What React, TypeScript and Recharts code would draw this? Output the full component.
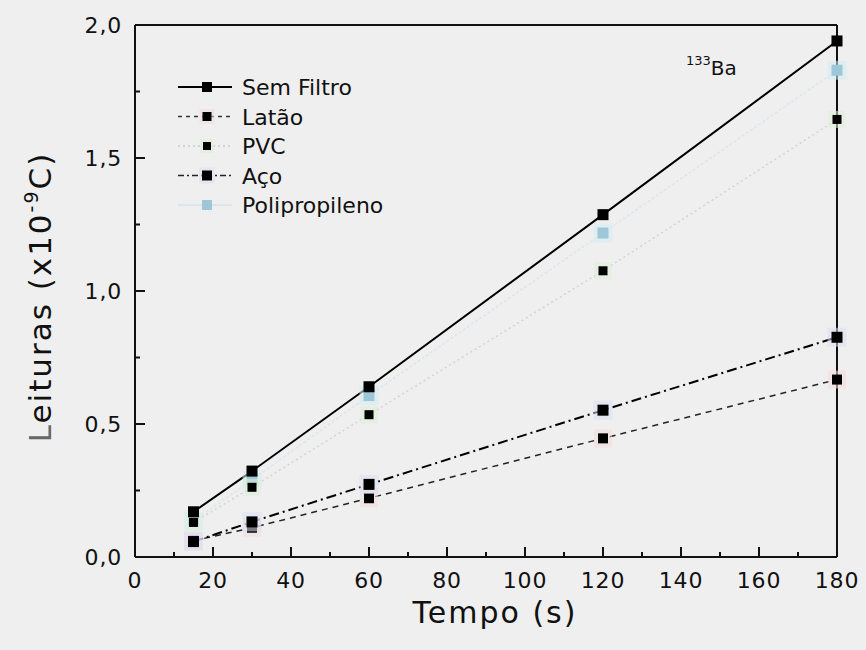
import React from 'react';
import { LineChart, Line, XAxis, YAxis } from 'recharts';

// Irradiation times (s)
const times = [15, 30, 60, 120, 180];

// Charge readings (x10^-9 C) for each filter
const semFiltro = [0.17, 0.323, 0.64, 1.287, 1.94];
const latao = [0.061, 0.11, 0.221, 0.446, 0.667];
const pvc = [0.13, 0.262, 0.535, 1.076, 1.645];
const aco = [0.058, 0.132, 0.273, 0.552, 0.826];
const polipropileno = [0.135, 0.29, 0.607, 1.218, 1.83];

const xTicks = [0, 10, 20, 30, 40, 50, 60, 70, 80, 90, 100, 110, 120, 130, 140, 150, 160, 170, 180];
const yTicks = [0, 0.25, 0.5, 0.75, 1, 1.25, 1.5, 1.75, 2];

const data = times.map((t, i) => ({
  t,
  semFiltro: semFiltro[i],
  latao: latao[i],
  pvc: pvc[i],
  aco: aco[i],
  polipropileno: polipropileno[i],
}));

const FONT = '"DejaVu Sans", Verdana, sans-serif';
const INK = '#111';

const isMajorY = (v: number) => Math.abs(v * 2 - Math.round(v * 2)) < 1e-6;
const fmtY = (v: number) => v.toFixed(1).replace('.', ',');

const BottomTick = (props: any) => {
  const { x, y, payload } = props;
  const major = payload.value % 20 === 0;
  return (
    <g>
      <line x1={x} x2={x} y1={y} y2={y - (major ? 10 : 5)} stroke={INK} strokeWidth={2} />
      {major && (
        <text x={x} y={y + 31} textAnchor="middle" fontSize={22} fontFamily={FONT} fill={INK} letterSpacing={0.8}>
          {payload.value}
        </text>
      )}
    </g>
  );
};

const TopTick = (props: any) => {
  const { x, y, payload } = props;
  const major = payload.value % 20 === 0;
  return <line x1={x} x2={x} y1={y} y2={y + (major ? 10 : 5)} stroke={INK} strokeWidth={2} />;
};

const LeftTick = (props: any) => {
  const { x, y, payload } = props;
  const major = isMajorY(payload.value);
  return (
    <g>
      <line x1={x} x2={x + (major ? 10 : 5)} y1={y} y2={y} stroke={INK} strokeWidth={2} />
      {major && (
        <text x={x - 13} y={y + 8} textAnchor="end" fontSize={22} fontFamily={FONT} fill={INK} letterSpacing={0.8}>
          {fmtY(payload.value)}
        </text>
      )}
    </g>
  );
};

const RightTick = (props: any) => {
  const { x, y, payload } = props;
  const major = isMajorY(payload.value);
  return <line x1={x} x2={x - (major ? 10 : 5)} y1={y} y2={y} stroke={INK} strokeWidth={2} />;
};

const squareDot = (fill: string, size: number, halo?: string) => (props: any) => {
  const { cx, cy, index } = props;
  if (cx == null || cy == null) return <g key={`d-${index}`} />;
  return (
    <g key={`d-${index}`}>
      {halo && (
        <rect x={cx - size / 2 - 4} y={cy - size / 2 - 4} width={size + 8} height={size + 8} fill={halo} opacity={0.55} />
      )}
      <rect x={cx - size / 2} y={cy - size / 2} width={size} height={size} fill={fill} />
    </g>
  );
};

type Entry = { name: string; stroke: string; width: number; dash?: string; marker: string; size: number; halo?: string };

const legendEntries: Entry[] = [
  { name: 'Sem Filtro', stroke: '#000', width: 2, marker: '#000', size: 10 },
  { name: 'Latão', stroke: '#333', width: 1.5, dash: '4 4', marker: '#000', size: 9, halo: '#f3dada' },
  { name: 'PVC', stroke: '#c6cfc6', width: 1.5, dash: '2 3', marker: '#000', size: 8, halo: '#dcefd6' },
  { name: 'Aço', stroke: '#222', width: 1.5, dash: '6 3 2 3', marker: '#000', size: 10, halo: '#dadff3' },
  { name: 'Polipropileno', stroke: '#d6e2ea', width: 1.5, marker: '#9cc7d6', size: 10 },
];

const LegendOverlay = () => (
  <svg width={866} height={650} style={{ position: 'absolute', left: 0, top: 0, pointerEvents: 'none' }}>
    {legendEntries.map((e, i) => {
      const y = 87 + i * 29.5;
      return (
        <g key={e.name}>
          <line x1={178} x2={232} y1={y} y2={y} stroke={e.stroke} strokeWidth={e.width} strokeDasharray={e.dash} />
          {e.halo && <rect x={207 - e.size / 2 - 3} y={y - e.size / 2 - 3} width={e.size + 6} height={e.size + 6} fill={e.halo} opacity={0.55} />}
          <rect x={207 - e.size / 2} y={y - e.size / 2} width={e.size} height={e.size} fill={e.marker} />
          <text x={242} y={y + 8} fontSize={22} fontFamily={FONT} fill={INK}>
            {e.name}
          </text>
        </g>
      );
    })}
    <text x={686} y={75} fontFamily={FONT} fill={INK}>
      <tspan fontSize={13} dy={-10}>133</tspan>
      <tspan fontSize={20} dy={10}>Ba</tspan>
    </text>
    <text x={495} y={623} textAnchor="middle" fontSize={30} letterSpacing={2} fontFamily={FONT} fill={INK}>
      Tempo (s)
    </text>
    <text
      transform="translate(51 297) rotate(-90)"
      textAnchor="middle"
      fontSize={31}
      letterSpacing={2}
      fontFamily={FONT}
      fill={INK}
    >
      <tspan fill="#666">L</tspan>eituras (x10
      <tspan fontSize={19} dy={-13}>-9</tspan>
      <tspan dy={13}>C)</tspan>
    </text>
  </svg>
);

export default function App() {
  return (
    <div style={{ position: 'absolute', left: 0, top: 0, width: 866, height: 650, background: '#efefef', fontFamily: FONT }}>
      <LineChart
        width={866}
        height={650}
        data={data}
        margin={{ top: 24, right: 28, bottom: 33, left: 0 }}
      >
        <XAxis
          dataKey="t"
          type="number"
          domain={[0, 180]}
          ticks={xTicks}
          interval={0}
          height={60}
          tickSize={0}
          tickMargin={0}
          tickLine={false}
          axisLine={{ stroke: INK, strokeWidth: 2 }}
          tick={<BottomTick />}
        />
        <XAxis
          xAxisId="top"
          orientation="top"
          type="number"
          domain={[0, 180]}
          ticks={xTicks}
          interval={0}
          height={1}
          tickSize={0}
          tickMargin={0}
          tickLine={false}
          axisLine={{ stroke: INK, strokeWidth: 2 }}
          tick={<TopTick />}
        />
        <YAxis
          type="number"
          domain={[0, 2]}
          ticks={yTicks}
          interval={0}
          width={135}
          tickSize={0}
          tickMargin={0}
          tickLine={false}
          axisLine={{ stroke: INK, strokeWidth: 2 }}
          tick={<LeftTick />}
        />
        <YAxis
          yAxisId="right"
          orientation="right"
          type="number"
          domain={[0, 2]}
          ticks={yTicks}
          interval={0}
          width={1}
          tickSize={0}
          tickMargin={0}
          tickLine={false}
          axisLine={{ stroke: INK, strokeWidth: 2 }}
          tick={<RightTick />}
        />
        <Line
          dataKey="polipropileno"
          stroke="#dbe6ec"
          strokeWidth={1.5}
          strokeDasharray="3 2"
          dot={squareDot('#9cc7d6', 11, '#d3ecf4')}
          isAnimationActive={false}
        />
        <Line
          dataKey="pvc"
          stroke="#cdd6cd"
          strokeWidth={1.5}
          strokeDasharray="2 3"
          dot={squareDot('#000', 9, '#dcefd6')}
          isAnimationActive={false}
        />
        <Line
          dataKey="latao"
          stroke="#222"
          strokeWidth={1.5}
          strokeDasharray="6 5"
          dot={squareDot('#000', 10, '#f3dada')}
          isAnimationActive={false}
        />
        <Line
          dataKey="aco"
          stroke="#000"
          strokeWidth={2}
          strokeDasharray="10 4 2 4"
          dot={squareDot('#000', 11, '#dadff3')}
          isAnimationActive={false}
        />
        <Line
          dataKey="semFiltro"
          stroke="#000"
          strokeWidth={2}
          dot={squareDot('#000', 11)}
          isAnimationActive={false}
        />
      </LineChart>
      <LegendOverlay />
    </div>
  );
}
